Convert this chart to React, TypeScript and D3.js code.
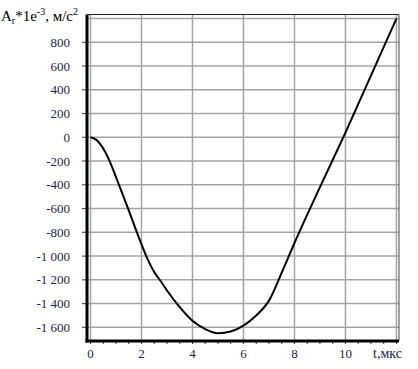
import * as d3 from "d3";

// time, microseconds
const tValues = [0, 0.25, 0.5, 0.75, 1, 1.25, 1.5, 1.75, 2, 2.25, 2.5, 2.75, 3, 3.5, 4, 4.5, 5, 5.5, 6, 6.5, 7, 7.5, 8, 9, 10, 11, 12];
// radial acceleration * 1e-3, m/s^2
const aValues = [0, -25, -95, -200, -335, -475, -615, -760, -900, -1030, -1135, -1210, -1290, -1430, -1545, -1615, -1650, -1635, -1585, -1500, -1375, -1140, -890, -420, 40, 520, 1000];

const xTickLabels = [0, 2, 4, 6, 8, 10];
const xGrid = [0, 2, 4, 6, 8, 10, 12];
const yTickLabels = [800, 600, 400, 200, 0, -200, -400, -600, -800, -1000, -1200, -1400, -1600];
const yGrid = [1000, ...yTickLabels];

const W = 418;
const H = 369;
const left = 87;
const right = 399;
const top = 14.5;
const bottom = 341;

const labelColor = "#23234f";

export default function App() {
  const x = d3.scaleLinear().domain([-0.137, 12.1]).range([left, right]);
  const y = d3.scaleLinear().domain([-1715, 1034]).range([bottom, top]);

  const pts = tValues.map((t, i) => [t, aValues[i]] as [number, number]);
  const line = d3
    .line<[number, number]>()
    .x((d) => x(d[0]))
    .y((d) => y(d[1]))
    .curve(d3.curveMonotoneX);

  const minor = d3.range(0, 12.01, 0.5);
  const fmt = (v: number) => d3.format(",")(v).replace(",", " ").replace("−", "-");

  return (
    <svg
      width={W}
      height={H}
      style={{ position: "absolute", left: 0, top: 0, background: "#fff" }}
      fontFamily="'Liberation Serif', 'Times New Roman', serif"
    >
      <rect width={W} height={H} fill="#fff" />
      {/* grid */}
      <g stroke="#a4a4a4" strokeWidth={1.5}>
        {xGrid.map((t) => (
          <line key={"gx" + t} x1={x(t)} x2={x(t)} y1={top} y2={bottom} />
        ))}
        {yGrid.map((v) => (
          <line key={"gy" + v} x1={left} x2={right} y1={y(v)} y2={y(v)} />
        ))}
      </g>
      {/* border */}
      <line x1={left} x2={right} y1={top} y2={top} stroke="#222" strokeWidth={1.2} />
      <line x1={right} x2={right} y1={top} y2={bottom} stroke="#444" strokeWidth={1} />
      {/* y ticks */}
      <g stroke="#7a3a7a" strokeWidth={1.2}>
        {yTickLabels.map((v) => (
          <line key={"ty" + v} x1={left - 5} x2={left} y1={y(v)} y2={y(v)} />
        ))}
      </g>
      {/* x minor ticks */}
      <g stroke="#333" strokeWidth={1}>
        {minor.map((t) => (
          <line key={"tx" + t} x1={x(t)} x2={x(t)} y1={bottom} y2={bottom + 3} />
        ))}
      </g>
      {/* axes */}
      <line x1={left} x2={left} y1={top} y2={bottom + 1.5} stroke="#000" strokeWidth={3} />
      <line x1={left - 1.5} x2={right} y1={bottom} y2={bottom} stroke="#000" strokeWidth={3} />
      {/* curve */}
      <path d={line(pts) ?? ""} fill="none" stroke="#000" strokeWidth={2} />
      {/* y labels */}
      <g fontSize={13} fill={labelColor} textAnchor="end">
        {yTickLabels.map((v) => (
          <text key={"ly" + v} x={70} y={y(v) + 4.5}>
            {fmt(v)}
          </text>
        ))}
      </g>
      {/* x labels */}
      <g fontSize={13} fill={labelColor} textAnchor="middle">
        {xTickLabels.map((t) => (
          <text key={"lx" + t} x={x(t)} y={358}>
            {t}
          </text>
        ))}
      </g>
      <text x={373} y={358} fontSize={14} fill={labelColor}>
        t,мкс
      </text>
      {/* title */}
      <text x={1} y={21} fontSize={15} fill="#000">
        A
        <tspan fontSize={10} dy={3}>r</tspan>
        <tspan dy={-3}>*1e</tspan>
        <tspan fontSize={10} dy={-6}>-3</tspan>
        <tspan dy={6}>, м/с</tspan>
        <tspan fontSize={10} dy={-6}>2</tspan>
      </text>
    </svg>
  );
}
